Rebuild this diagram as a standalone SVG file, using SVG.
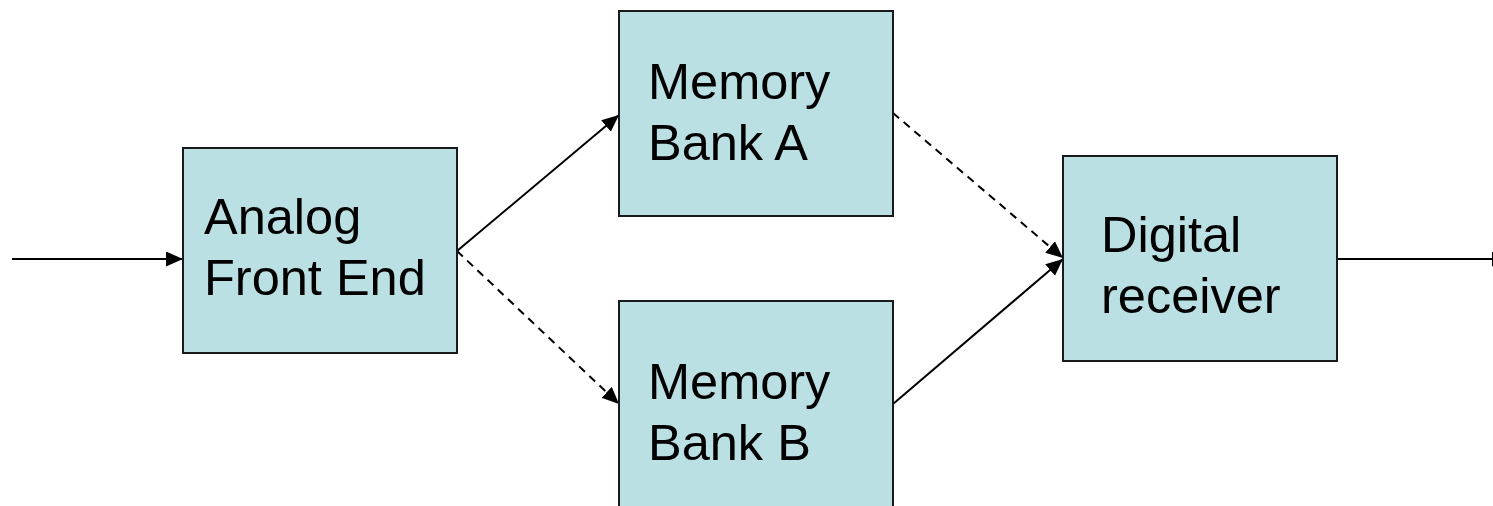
<svg xmlns="http://www.w3.org/2000/svg" width="1493" height="506" viewBox="0 0 1493 506">
  <style>
    .box { fill: #BBE0E3; stroke: #1a1a1a; stroke-width: 2; }
    .label { font-family: "Liberation Sans", Arial, sans-serif; font-size: 50.5px; fill: #000; }
    .link { fill: none; stroke: #000; stroke-width: 2; }
    .dashed { stroke-dasharray: 8 6; }
  </style>
  <defs>
    <marker id="arrow" markerUnits="userSpaceOnUse" markerWidth="18" markerHeight="16" refX="17" refY="7.5" orient="auto">
      <path d="M0,0 L17,7.5 L0,15 z" fill="#000"/>
    </marker>
  </defs>

  <g id="connectors">
    <line class="link" x1="12" y1="259" x2="183" y2="259" marker-end="url(#arrow)"/>
    <line class="link" x1="457" y1="251" x2="619" y2="115" marker-end="url(#arrow)"/>
    <line class="link dashed" x1="457" y1="251" x2="619" y2="404" marker-end="url(#arrow)"/>
    <line class="link dashed" x1="893" y1="113" x2="1063" y2="258" marker-end="url(#arrow)"/>
    <line class="link" x1="893" y1="404" x2="1063" y2="259" marker-end="url(#arrow)"/>
    <line class="link" x1="1338" y1="259" x2="1509" y2="259" marker-end="url(#arrow)"/>
  </g>

  <g id="analog-front-end">
    <rect class="box" x="183" y="148" width="274" height="205"/>
    <text class="label" x="204" y="234">Analog</text>
    <text class="label" x="204" y="295">Front End</text>
  </g>

  <g id="memory-bank-a">
    <rect class="box" x="619" y="11" width="274" height="205"/>
    <text class="label" x="648" y="99">Memory</text>
    <text class="label" x="648" y="160">Bank A</text>
  </g>

  <g id="memory-bank-b">
    <rect class="box" x="619" y="301" width="274" height="215"/>
    <text class="label" x="648" y="399">Memory</text>
    <text class="label" x="648" y="460">Bank B</text>
  </g>

  <g id="digital-receiver">
    <rect class="box" x="1063" y="156" width="274" height="205"/>
    <text class="label" x="1101" y="252">Digital</text>
    <text class="label" x="1101" y="313">receiver</text>
  </g>
</svg>
